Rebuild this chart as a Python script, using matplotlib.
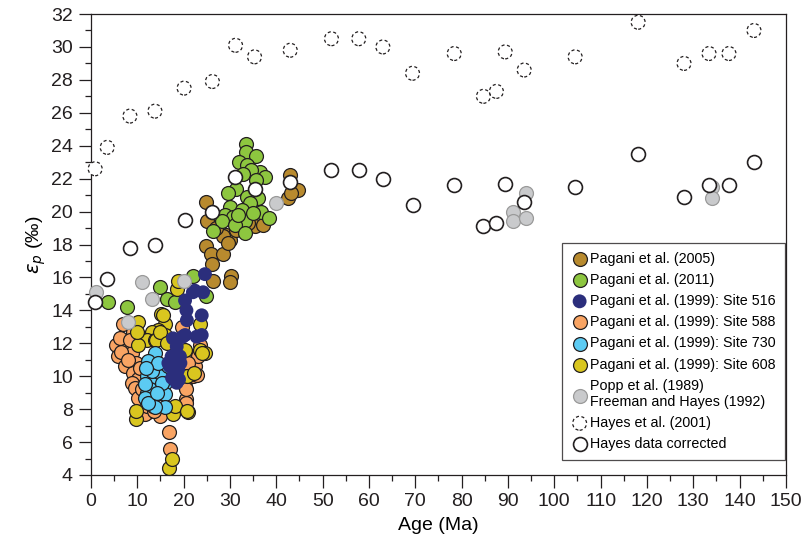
import matplotlib.pyplot as plt
from matplotlib.ticker import MultipleLocator

plt.rcParams['font.family'] = ['Liberation Sans', 'DejaVu Sans']

# Pagani et al. (2005)
p05_age = [24.8, 25.1, 29.2, 30.0, 28.5, 24.8, 26.0, 28.5, 26.2, 30.3, 30.0, 26.4,
           42.9, 44.7, 42.5, 43.2, 35.3, 37.1, 31.4, 33.9, 29.5, 27.0]
p05_ep = [20.6, 19.4, 18.6, 18.3, 18.5, 17.9, 17.4, 17.4, 16.8, 16.1, 15.7, 15.8,
          22.2, 21.3, 20.8, 21.1, 19.1, 19.2, 18.9, 19.3, 18.1, 19.0]

# Pagani et al. (2011)
p11_age = [33.4, 33.5, 35.7, 32.0, 33.6, 36.4, 37.5, 34.6, 32.8, 35.7, 31.4, 29.6,
           36.1, 33.6, 34.3, 29.9, 32.5, 36.8, 38.4, 28.9, 30.7, 33.2, 28.2, 31.0,
           26.4, 33.2, 35.0, 31.7,
           3.7, 7.7, 14.9, 16.4, 18.1, 22.0, 24.9]
p11_ep = [24.1, 23.6, 23.4, 23.0, 22.8, 22.4, 22.1, 22.5, 22.3, 21.9, 21.4, 21.1,
          20.8, 20.9, 20.5, 20.3, 20.1, 20.0, 19.6, 19.8, 19.7, 19.4, 19.4, 19.2,
          18.8, 18.7, 19.9, 19.8,
          14.5, 14.2, 15.4, 14.7, 14.5, 16.1, 14.9]

# Pagani et al. (1999): Site 588
s588_age = [7.0, 9.1, 5.5, 7.3, 5.9, 8.8, 9.8, 7.3, 9.1, 10.2, 8.8, 6.5, 8.0,
            22.4, 23.1, 22.0, 20.3, 20.6, 23.5, 16.8, 17.0, 12.3, 14.9, 20.6,
            20.6, 22.8, 10.6, 10.9, 9.5, 10.1, 11.6, 19.6, 10.5, 11.0, 12.0,
            13.5, 21.0, 6.2, 8.5]
s588_ep = [13.2, 12.7, 11.9, 11.8, 11.2, 11.4, 10.8, 10.6, 10.2, 9.8, 9.6, 11.5, 11.0,
           10.6, 11.2, 10.0, 9.4, 8.6, 11.9, 6.6, 5.6, 7.8, 7.6, 8.4,
           9.2, 10.1, 7.8, 8.4, 9.3, 8.7, 7.7, 13.0, 10.5, 9.2, 8.2,
           7.9, 10.8, 12.3, 12.2]

# Pagani et al. (1999): Site 608
s608_age = [16.9, 17.4, 9.7, 9.8, 21.0, 17.7, 18.1, 20.8, 18.5, 15.2, 15.9, 14.5,
            15.9, 13.1, 12.0, 13.8, 10.2, 23.5, 24.6, 15.6, 10.1, 9.9, 23.5, 18.8,
            20.3, 20.7, 22.3, 14.1, 14.9, 16.3, 23.9]
s608_ep = [4.4, 5.0, 7.4, 7.9, 7.8, 7.7, 8.2, 7.9, 15.3, 13.8, 13.2, 12.8,
           12.5, 12.7, 12.2, 12.2, 11.9, 11.6, 11.4, 13.7, 13.3, 12.7, 13.2, 15.8,
           11.6, 10.0, 10.2, 12.2, 12.7, 12.0, 11.4]

# Pagani et al. (1999): Site 730
s730_age = [13.8, 12.3, 13.8, 12.0, 14.9, 13.1, 15.9, 12.0, 14.9, 15.9, 15.9, 13.4,
            12.7, 11.6, 13.8, 16.6, 11.6, 12.3, 15.3, 14.2, 13.1, 14.5, 11.8]
s730_ep = [11.4, 10.9, 10.4, 10.0, 10.0, 9.5, 9.6, 9.0, 9.0, 8.9, 8.1, 8.2,
           9.2, 9.5, 8.1, 10.6, 8.7, 8.4, 9.6, 9.0, 10.3, 10.8, 10.5]

# Pagani et al. (1999): Site 516
s516_age = [24.6, 24.2, 22.0, 20.6, 23.9, 17.7, 20.3, 23.9, 18.1, 18.5, 19.0, 17.0,
            22.4, 20.3, 20.7, 18.5, 17.4, 16.7, 18.8, 18.1, 19.8, 22.8, 19.2, 17.8,
            18.5, 17.5, 19.3]
s516_ep = [16.2, 15.1, 15.1, 14.0, 13.7, 12.3, 12.5, 12.5, 11.0, 10.2, 9.8, 10.6,
           15.2, 14.6, 13.4, 11.8, 11.2, 10.8, 10.4, 9.8, 12.4, 12.4, 11.2, 10.0,
           9.6, 9.9, 10.8]

# Popp et al. (1989) / Freeman and Hayes (1992)
popp_age = [1.1, 11.1, 13.1, 8.0, 20.0, 40.0, 91.0, 91.0, 94.0, 94.0, 134.0, 134.0]
popp_ep = [15.1, 15.7, 14.7, 13.3, 15.8, 20.5, 20.0, 19.4, 21.1, 19.6, 21.5, 20.8]

# Hayes et al. (2001) and the corrected values
hayes_age = [0.9, 3.5, 8.4, 13.8, 20.1, 26.2, 31.2, 35.3, 43.0, 51.9, 57.8, 63.0,
             69.4, 78.4, 84.7, 87.5, 89.4, 93.5, 104.5, 118.1, 128.0, 133.4, 137.7, 143.1]
hayes_ep = [22.6, 23.9, 25.8, 26.1, 27.5, 27.9, 30.1, 29.4, 29.8, 30.5, 30.5, 30.0,
            28.4, 29.6, 27.0, 27.3, 29.7, 28.6, 29.4, 31.5, 29.0, 29.6, 29.6, 31.0]
corr_age = [0.9, 3.4, 8.4, 13.8, 20.3, 26.2, 31.0, 35.3, 42.9, 51.9, 57.8, 63.0,
            69.4, 78.4, 84.7, 87.5, 89.4, 93.5, 104.5, 118.1, 128.0, 133.4, 137.7, 143.1]
corr_ep = [14.5, 15.9, 17.8, 18.0, 19.5, 20.0, 22.1, 21.4, 21.8, 22.5, 22.5, 22.0,
           20.4, 21.6, 19.1, 19.3, 21.7, 20.6, 21.5, 23.5, 20.9, 21.6, 21.6, 23.0]

fig = plt.figure(figsize=(8.01, 5.5), dpi=100)
ax = fig.add_axes([0.1136, 0.1364, 0.8676, 0.8381])

S = 100
ink = '#231f20'
edge = dict(edgecolor=ink, linewidths=0.9, clip_on=False)
ax.scatter(p05_age, p05_ep, s=S, c='#B88A2E', label='Pagani et al. (2005)', zorder=2, **edge)
ax.scatter(p11_age, p11_ep, s=S, c='#8DC63F', label='Pagani et al. (2011)', zorder=3, **edge)
ax.scatter(s516_age, s516_ep, s=S, c='#2B2E7C', edgecolor='none', clip_on=False,
           label='Pagani et al. (1999): Site 516', zorder=7)
ax.scatter(s588_age, s588_ep, s=S, c='#F9A463', label='Pagani et al. (1999): Site 588', zorder=4, **edge)
ax.scatter(s730_age, s730_ep, s=S, c='#5CCBF3', label='Pagani et al. (1999): Site 730', zorder=6, **edge)
ax.scatter(s608_age, s608_ep, s=S, c='#D9C61F', label='Pagani et al. (1999): Site 608', zorder=5, **edge)
ax.scatter(popp_age, popp_ep, s=S, c='#C9CACC', edgecolor='#9a9a9a', linewidths=0.9, clip_on=False,
           label='Popp et al. (1989)\nFreeman and Hayes (1992)', zorder=8)
ax.scatter(hayes_age, hayes_ep, s=S, facecolor='white', edgecolor=ink, linewidths=0.9,
           linestyle=(0, (2.5, 2)), clip_on=False, label='Hayes et al. (2001)', zorder=9)
ax.scatter(corr_age, corr_ep, s=S, facecolor='white', edgecolor=ink, linewidths=1.2,
           clip_on=False, label='Hayes data corrected', zorder=10)

ax.set_xlim(0, 150)
ax.set_ylim(4, 32)
ax.xaxis.set_major_locator(MultipleLocator(10))
ax.xaxis.set_minor_locator(MultipleLocator(5))
ax.yaxis.set_major_locator(MultipleLocator(2))
ax.yaxis.set_minor_locator(MultipleLocator(1))
ax.tick_params(which='major', direction='out', length=9, width=0.9, labelsize=14, pad=4,
               colors=ink)
ax.tick_params(which='minor', direction='out', length=4.5, width=0.9, colors=ink)
for sp in ax.spines.values():
    sp.set_linewidth(0.9)
    sp.set_color(ink)

ax.set_xlabel('Age (Ma)', fontsize=14, labelpad=5)
ax.set_ylabel(r'$\varepsilon_p$ (‰)', fontsize=14, labelpad=2)

leg = ax.legend(loc='lower right', bbox_to_anchor=(0.998, 0.033), fontsize=10.3, frameon=True,
                fancybox=False, edgecolor=ink, handletextpad=0.15, labelspacing=0.5,
                borderpad=0.6, handlelength=1.2, scatterpoints=1, borderaxespad=0.0)
leg.get_frame().set_linewidth(0.9)

fig.savefig('out.png', dpi=100)
